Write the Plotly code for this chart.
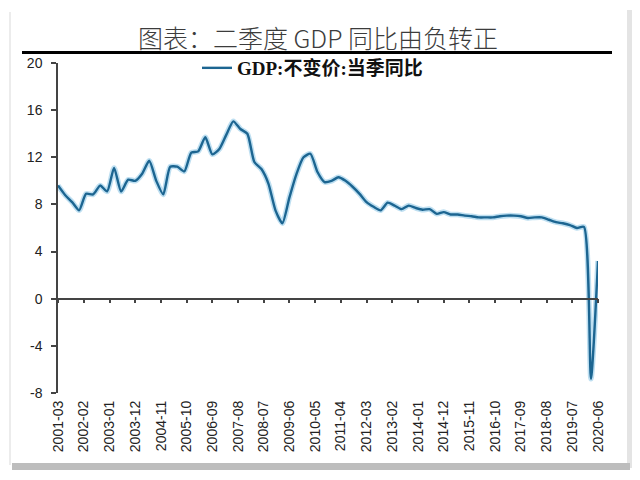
import plotly.graph_objects as go

# ---- data ----
quarters = [
    "2001-03", "2001-06", "2001-09", "2001-12",
    "2002-03", "2002-06", "2002-09", "2002-12",
    "2003-03", "2003-06", "2003-09", "2003-12",
    "2004-03", "2004-06", "2004-09", "2004-12",
    "2005-03", "2005-06", "2005-09", "2005-12",
    "2006-03", "2006-06", "2006-09", "2006-12",
    "2007-03", "2007-06", "2007-09", "2007-12",
    "2008-03", "2008-06", "2008-09", "2008-12",
    "2009-03", "2009-06", "2009-09", "2009-12",
    "2010-03", "2010-06", "2010-09", "2010-12",
    "2011-03", "2011-06", "2011-09", "2011-12",
    "2012-03", "2012-06", "2012-09", "2012-12",
    "2013-03", "2013-06", "2013-09", "2013-12",
    "2014-03", "2014-06", "2014-09", "2014-12",
    "2015-03", "2015-06", "2015-09", "2015-12",
    "2016-03", "2016-06", "2016-09", "2016-12",
    "2017-03", "2017-06", "2017-09", "2017-12",
    "2018-03", "2018-06", "2018-09", "2018-12",
    "2019-03", "2019-06", "2019-09", "2019-12",
    "2020-03", "2020-06",
]
gdp_yoy = [
    9.6, 8.8, 8.2, 7.5,
    8.9, 8.85, 9.6, 9.1,
    11.1, 9.1, 10.1, 10.0,
    10.6, 11.7, 10.0, 8.85,
    11.2, 11.2, 10.8, 12.4,
    12.5, 13.7, 12.25, 12.7,
    13.9, 15.05, 14.4, 14.0,
    11.6, 11.0, 9.75, 7.5,
    6.4, 8.6, 10.6, 12.0,
    12.3, 10.75, 9.9, 10.0,
    10.3, 10.0, 9.5, 8.9,
    8.2, 7.8, 7.5, 8.15,
    7.9, 7.6, 7.9, 7.7,
    7.55, 7.6, 7.2, 7.35,
    7.15, 7.15, 7.05, 7.0,
    6.9, 6.9, 6.9, 7.0,
    7.05, 7.05, 7.0, 6.85,
    6.9, 6.9, 6.7, 6.5,
    6.4, 6.25, 6.0, 6.1,
    -6.8, 3.2,
]
tick_labels = [
    "2001-03", "2002-02", "2003-01", "2003-12", "2004-11", "2005-10",
    "2006-09", "2007-08", "2008-07", "2009-06", "2010-05", "2011-04",
    "2012-03", "2013-02", "2014-01", "2014-12", "2015-11", "2016-10",
    "2017-09", "2018-08", "2019-07", "2020-06",
]
y_tick_vals = [-8, -4, 0, 4, 8, 12, 16, 20]
y_tick_labels = ["-8", "-4", "0", "4", "8", "12", "16", "20"]
series_name = "GDP:不变价:当季同比"
title_text = "图表：二季度 GDP 同比由负转正"

# ---- layout geometry (window pixels; the page body adds an 8px offset) ----
OFF = 8
W, H = 640 - OFF, 480 - OFF
L, R, T, B = 58 - OFF, 42, 63 - OFF, 87
pw, ph = W - L - R, H - T - B


def px(x):
    return (x - OFF - L) / pw


def py(y):
    return (H - B - (y - OFF)) / ph


x_dates = [q + "-01" for q in quarters]
tick_dates = [t + "-01" for t in tick_labels]

fig = go.Figure()
# soft glow under the line
fig.add_trace(go.Scatter(
    x=x_dates, y=gdp_yoy, mode="lines", showlegend=False, hoverinfo="skip",
    line=dict(color="rgba(110,185,225,0.45)", width=5.5, shape="spline", smoothing=0.6),
))
fig.add_trace(go.Scatter(
    x=x_dates, y=gdp_yoy, mode="lines", name=series_name,
    line=dict(color="#1c6591", width=2.4, shape="spline", smoothing=0.6),
))
# invisible trace to carry the zero-crossing axis
fig.add_trace(go.Scatter(
    x=[x_dates[0], x_dates[-1]], y=[0, 0], mode="lines", xaxis="x2",
    showlegend=False, hoverinfo="skip", line=dict(color="rgba(0,0,0,0)", width=0),
))

y_min, y_max = y_tick_vals[0], y_tick_vals[-1]
axis_col = "#444444"
tick_font = dict(family="Liberation Sans, Noto Sans CJK SC", size=14, color="#222222")

fig.update_layout(
    width=W, height=H,
    margin=dict(l=L, r=R, t=T, b=B),
    paper_bgcolor="white", plot_bgcolor="rgba(0,0,0,0)",
    showlegend=True,
    legend=dict(
        orientation="h", x=px(197), y=py(68), xanchor="left", yanchor="middle",
        bgcolor="rgba(0,0,0,0)", itemwidth=30,
        font=dict(family="Liberation Serif, Noto Sans CJK SC", size=19, color="#111111", weight="bold"),
    ),
    xaxis=dict(
        type="date", range=[tick_dates[0], tick_dates[-1]],
        tickvals=tick_dates, ticktext=tick_labels, tickangle=-90,
        showline=False, showgrid=False, zeroline=False, ticks="",
        ticklabelstandoff=4, tickfont=tick_font,
    ),
    xaxis2=dict(
        type="date", overlaying="x", matches="x", anchor="free",
        position=(0 - y_min) / (y_max - y_min),
        tickvals=tick_dates, showticklabels=False,
        showline=True, linecolor=axis_col, linewidth=1.5,
        ticks="outside", ticklen=4, tickcolor=axis_col, tickwidth=1.5,
        showgrid=False, zeroline=False,
    ),
    yaxis=dict(
        range=[y_min, y_max], tickvals=y_tick_vals, ticktext=y_tick_labels,
        showline=True, linecolor=axis_col, linewidth=1.5,
        ticks="outside", ticklen=5, tickcolor=axis_col, tickwidth=1.5,
        showgrid=False, zeroline=False, tickfont=tick_font,
        ticklabelstandoff=6,
    ),
    annotations=[dict(
        text=title_text, xref="paper", yref="paper", x=px(318), y=py(37),
        xanchor="center", yanchor="middle", showarrow=False,
        font=dict(family="Noto Sans CJK SC", size=25, color="#3c3c3c", weight=300),
    )],
    shapes=[
        # card edges / drop shadow
        dict(type="rect", xref="paper", yref="paper", x0=px(627), x1=px(633), y0=py(468), y1=py(10),
             fillcolor="#e4e4e4", line=dict(width=0), layer="below"),
        dict(type="rect", xref="paper", yref="paper", x0=px(12), x1=px(630), y0=py(470), y1=py(463),
             fillcolor="#bdbdbd", line=dict(width=0), layer="below"),
        dict(type="rect", xref="paper", yref="paper", x0=px(9), x1=px(11), y0=py(465), y1=py(12),
             fillcolor="#ececec", line=dict(width=0), layer="below"),
        # title underline
        dict(type="line", xref="paper", yref="paper", x0=px(22), x1=px(612), y0=py(52.5), y1=py(52.5),
             line=dict(color="#000000", width=3)),
    ],
)

fig.write_html("out.html")
